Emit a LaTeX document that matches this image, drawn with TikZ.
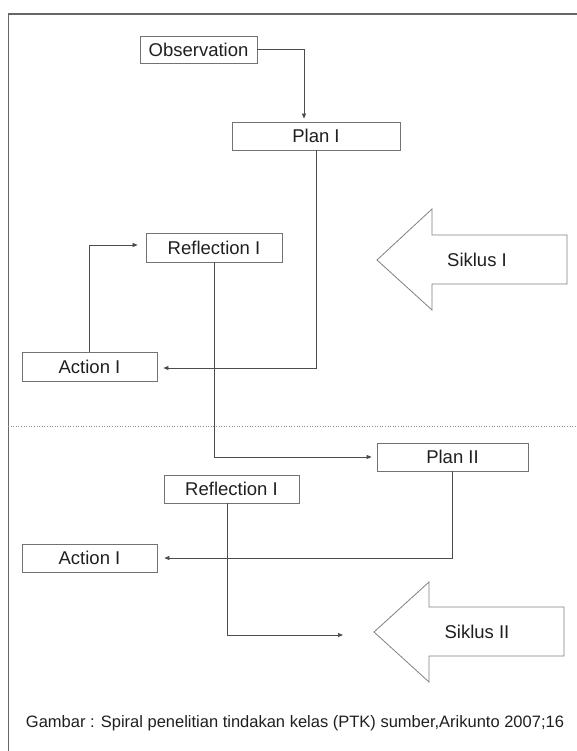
\documentclass[tikz,border=0pt]{standalone}
\usepackage{fontspec}
\setmainfont{Liberation Sans}
\usetikzlibrary{arrows.meta}

\begin{document}
\begin{tikzpicture}[x=1pt, y=-1pt,
	font=\fontsize{18.5}{21}\selectfont, text=black!88,
	stagebox/.style={draw=black!55, line width=0.8pt, inner sep=0pt},
	conn/.style={draw=black!70, line width=0.7pt, -{Triangle[length=5pt,width=4pt]}},
	bigarrow/.style={draw=black!50, line width=0.8pt}]
	\useasboundingbox (0,0) rectangle (577,751);

	% frame
	\draw[black!60, line width=1.5pt] (8,14) -- (577,14);
	\draw[black!60, line width=0.8pt] (8,14) -- (8,751);
	\draw[black!45, line width=0.6pt, dotted] (8,426) -- (577,426);

	% siklus I
	\node[stagebox, minimum width=117pt, minimum height=27pt] (obs) at (198.5,49.5) {Observation};
	\node[stagebox, minimum width=168pt, minimum height=28pt] (plan1) at (316,136) {Plan I};
	\node[stagebox, minimum width=136pt, minimum height=29pt] (refl1) at (214,247.5) {Reflection I};
	\node[stagebox, minimum width=135pt, minimum height=29pt] (act1) at (89.5,366.5) {Action I};

	\draw[conn, shorten >=3pt] (obs.east) -| ([xshift=-12pt]plan1.north);
	\draw[conn, shorten >=6pt] (plan1.south) |- ([yshift=-1.5pt]act1.east);
	\draw[conn, shorten >=8pt] (act1.north) |- ([yshift=2.5pt]refl1.west);

	\draw[bigarrow] (377,260) -- (432,209) -- (432,235) -- (567,235) -- (567,284) -- (432,284) -- (432,310) -- cycle;
	\node (sik1) at (477,260) {Siklus I};

	% siklus II
	\node[stagebox, minimum width=151pt, minimum height=28pt] (plan2) at (452.5,457) {Plan II};
	\node[stagebox, minimum width=135pt, minimum height=28pt] (refl2) at (231.5,489) {Reflection I};
	\node[stagebox, minimum width=135pt, minimum height=28pt] (act2) at (89.5,558) {Action I};
	\coordinate (tip2) at (343,635);

	\draw[conn, shorten >=5pt] (refl1.south) |- (plan2.west);
	\draw[conn, shorten >=7pt] (plan2.south) |- (act2.east);
	\draw[conn] ([xshift=-4.5pt]refl2.south) |- (tip2);

	\draw[bigarrow] (374,632) -- (429,582) -- (429,607) -- (564,607) -- (564,656) -- (429,656) -- (429,682) -- cycle;
	\node (sik2) at (477,632) {Siklus II};

	\node[font=\fontsize{16.5}{19}\selectfont] (cap) at (295,723) {Gambar : Spiral penelitian tindakan kelas (PTK) sumber,Arikunto 2007;16};

\end{tikzpicture}
\end{document}
